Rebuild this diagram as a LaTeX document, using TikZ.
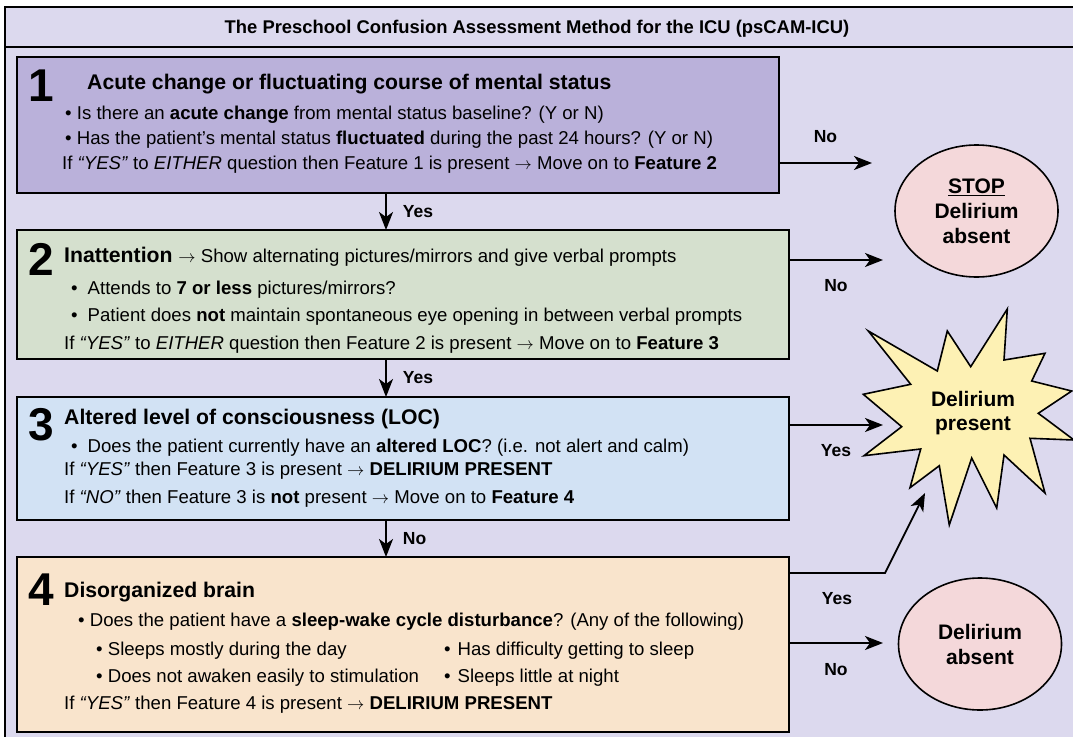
\documentclass[tikz,border=0pt]{standalone}
\usepackage{fontspec}
\setmainfont{Liberation Sans}
\usetikzlibrary{arrows.meta,shapes.geometric}
\definecolor{bgcol}{RGB}{220,217,238}
\definecolor{onecol}{RGB}{186,177,218}
\definecolor{twocol}{RGB}{213,224,206}
\definecolor{threecol}{RGB}{210,226,244}
\definecolor{fourcol}{RGB}{249,228,204}
\definecolor{endcol}{RGB}{244,216,218}
\definecolor{burstcol}{RGB}{253,241,180}
\newcommand{\wbul}{\textbullet\hspace{10pt}}

\begin{document}
\begin{tikzpicture}[
    x=1pt, y=-1pt,
    every node/.style={font=\fontsize{18.6}{22}\selectfont},
    feature/.style={draw, line width=2.5pt, inner sep=0pt, outer sep=0pt},
    num/.style={anchor=base, inner sep=0pt, font=\fontsize{46}{46}\selectfont\bfseries},
    head/.style={anchor=base west, inner sep=0pt, font=\fontsize{21.2}{24}\selectfont\bfseries},
    line/.style={anchor=base west, inner sep=0pt},
    lbl/.style={inner sep=0pt, font=\fontsize{17.5}{20}\selectfont\bfseries},
    outcome/.style={ellipse, draw, line width=1.6pt, fill=endcol, minimum width=163pt, minimum height=132pt, inner sep=0pt, align=center, font=\fontsize{21}{25}\selectfont\bfseries},
    flow/.style={-{Stealth[length=18pt, width=14pt, inset=5pt]}, line width=1.8pt}
]
\useasboundingbox (0,0) rectangle (1073,736);
\fill[white] (0,0) rectangle (1073,736);
\draw[line width=1.6pt, fill=bgcol] (5,7) rectangle (1080,742);
\draw[line width=1.6pt] (5,47) -- (1080,47);
\node[anchor=base, inner sep=0pt, font=\fontsize{18.4}{22}\selectfont\bfseries] (title) at (537,33) {The Preschool Confusion Assessment Method for the ICU (psCAM-ICU)};

\node[feature, fill=onecol, minimum width=762pt, minimum height=136pt] (f1) at (398,125) {};
\node[feature, fill=twocol, minimum width=772pt, minimum height=129pt] (f2) at (403,294.5) {};
\node[feature, fill=threecol, minimum width=772pt, minimum height=123pt] (f3) at (403,458.5) {};
\node[feature, fill=fourcol, minimum width=772pt, minimum height=175pt] (f4) at (403,644.5) {};

\node[num] (n1) at (41,101) {1};
\node[head] (h1) at (87,89) {Acute change or fluctuating course of mental status};
\node[line] (f1a) at (65,119) {\textbullet\ Is there an \textbf{acute change} from mental status baseline? (Y or N)};
\node[line] (f1b) at (65,144) {\textbullet\ Has the patient’s mental status \textbf{fluctuated} during the past 24 hours? (Y or N)};
\node[line] (f1c) at (62,169) {If \textit{“YES”} to \textit{EITHER} question then Feature 1 is present $\rightarrow$ Move on to \textbf{Feature 2}};

\node[num] (n2) at (41,275) {2};
\node[head] (h2) at (64,262) {Inattention \mdseries\fontsize{18.6}{22}\selectfont$\rightarrow$ Show alternating pictures/mirrors and give verbal prompts};
\node[line] (f2a) at (71,294) {\wbul Attends to \textbf{7 or less} pictures/mirrors?};
\node[line] (f2b) at (71,321) {\wbul Patient does \textbf{not} maintain spontaneous eye opening in between verbal prompts};
\node[line] (f2c) at (64,349) {If \textit{“YES”} to \textit{EITHER} question then Feature 2 is present $\rightarrow$ Move on to \textbf{Feature 3}};

\node[num] (n3) at (41,440) {3};
\node[head] (h3) at (64,424) {Altered level of consciousness (LOC)};
\node[line] (f3a) at (71,452) {\wbul Does the patient currently have an \textbf{altered LOC}? (i.e. not alert and calm)};
\node[line] (f3b) at (64,475) {If \textit{“YES”} then Feature 3 is present $\rightarrow$ \textbf{DELIRIUM PRESENT}};
\node[line] (f3c) at (64,503) {If \textit{“NO”} then Feature 3 is \textbf{not} present $\rightarrow$ Move on to \textbf{Feature 4}};

\node[num] (n4) at (41,605) {4};
\node[head] (h4) at (64,597) {Disorganized brain};
\node[line] (f4a) at (78,626) {\textbullet\ Does the patient have a \textbf{sleep-wake cycle disturbance}? (Any of the following)};
\node[line] (f4b) at (96,655) {\textbullet\ Sleeps mostly during the day};
\node[line] (f4c) at (444,655) {\textbullet\hspace{7pt}Has difficulty getting to sleep};
\node[line] (f4d) at (96,682) {\textbullet\ Does not awaken easily to stimulation};
\node[line] (f4e) at (444,682) {\textbullet\hspace{7pt}Sleeps little at night};
\node[line] (f4f) at (64,709) {If \textit{“YES”} then Feature 4 is present $\rightarrow$ \textbf{DELIRIUM PRESENT}};

\node[outcome] (stop) at (976.5,211) {\underline{STOP}\\Delirium\\absent};
\node[outcome] (absent) at (980,644) {Delirium\\absent};
\draw[line width=1.6pt, fill=burstcol] (868.3,331) -- (937.3,371) -- (947.3,331) -- (970.7,366.7) -- (1007.3,309) -- (1004,360) -- (1045,353.3) -- (1031.7,381) -- (1071.7,391) -- (1038.3,413.3) -- (1074,440) -- (1030,438.3) -- (1045,493) -- (1004,455) -- (996.7,508) -- (971.7,458) -- (949.3,525) -- (939.3,465.7) -- (910,487.7) -- (920.7,449) -- (864,455.7) -- (901.7,426.7) -- (863.3,394.3) -- (910.7,384.3) -- cycle;
\node[align=center, font=\fontsize{21}{24}\selectfont\bfseries] (present) at (973,413) {Delirium\\present};

\coordinate (vx) at (386,0);
\coordinate (s1) at (872,163);
\coordinate (s2) at (883,260);
\coordinate (s3) at (883,425);
\coordinate (s4a) at (885,573);
\coordinate (s4) at (925,493);
\coordinate (s5) at (883,643);
\draw[flow] (f1.south -| vx) -- node[lbl, anchor=west, xshift=16pt] {Yes} (f2.north -| vx);
\draw[flow] (f2.south -| vx) -- node[lbl, anchor=west, xshift=16pt] {Yes} (f3.north -| vx);
\draw[flow] (f3.south -| vx) -- node[lbl, anchor=west, xshift=16pt] {No} (f4.north -| vx);
\draw[flow] (s1 -| f1.east) -- node[lbl, yshift=26pt] {No} (s1);
\draw[flow] (s2 -| f2.east) -- node[lbl, yshift=-26pt] {No} (s2);
\draw[flow] (s3 -| f3.east) -- node[lbl, yshift=-26pt] {Yes} (s3);
\draw[flow] (s4a -| f4.east) -- node[lbl, yshift=-26pt] {Yes} (s4a) -- (s4);
\draw[flow] (s5 -| f4.east) -- node[lbl, yshift=-27pt] {No} (s5);
\end{tikzpicture}
\end{document}
